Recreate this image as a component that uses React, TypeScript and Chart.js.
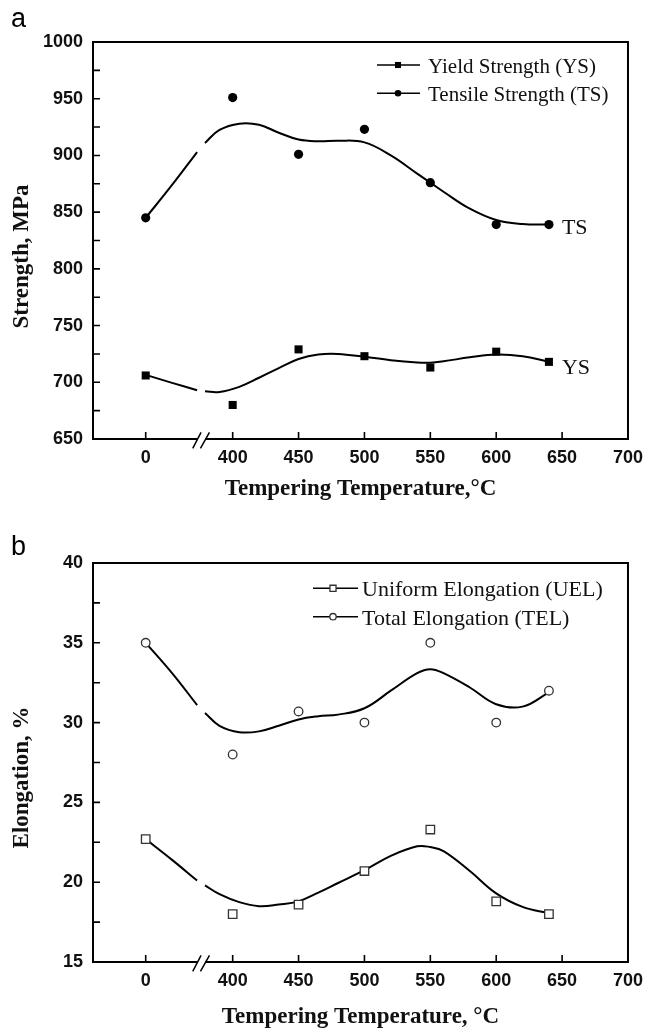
import React, { useEffect, useRef } from 'react';
import { Chart, registerables } from 'chart.js';

Chart.register(...registerables);

// ---------- data ----------
const TEMPS = [0, 400, 450, 500, 550, 600, 640];
const YS = [706, 680, 729, 723, 713, 727, 718];
const TS = [845, 951, 901, 923, 876, 839, 839];
const UEL = [22.7, 18.0, 18.6, 20.7, 23.3, 18.8, 18.0];
const TEL = [35.0, 28.0, 30.7, 30.0, 35.0, 30.0, 32.0];

// fitted smooth curves (axis positions; 376 = axis break, no value)
const FIT_X = [334, 354, 373, 376, 379, 390, 405, 420, 435, 450, 465, 480, 500, 520, 540, 550, 560, 580, 600, 620, 640];
const TS_FIT = [845, 874, 903, null, 911, 922.5, 928, 927, 920, 914, 912.5, 913, 911.5, 900, 884, 876, 868, 853, 843, 839.5, 839];
const YS_FIT = [706.5, 699.5, 693, null, 692, 691.5, 696, 704, 712.5, 720.5, 724.5, 725, 722.5, 719.5, 717.5, 717.3, 718.5, 722, 724.5, 723, 718];
const TEL_FIT = [35, 33.1, 31.1, null, 30.6, 29.8, 29.4, 29.45, 29.8, 30.2, 30.4, 30.5, 30.9, 32.0, 33.1, 33.35, 33.1, 32.2, 31.15, 31.0, 31.9];
const UEL_FIT = [22.7, 21.4, 20.1, null, 19.8, 19.25, 18.75, 18.5, 18.6, 18.8, 19.35, 19.95, 20.75, 21.65, 22.25, 22.2, 21.95, 20.7, 19.3, 18.45, 18.05];

const X_TICKS = [0, 400, 450, 500, 550, 600, 650, 700];
const Y_TICKS_A = [650, 700, 750, 800, 850, 900, 950, 1000];
const Y_TICKS_B = [15, 20, 25, 30, 35, 40];

const ZERO_POS = 334; // axis position where temperature 0 is drawn (broken axis)
const BREAK_AT = 376;
const X_MIN = 294;
const X_MAX = 700;
const toAxis = (t: number) => (t === 0 ? ZERO_POS : t);

const SERIF = '"Liberation Serif", "Times New Roman", serif';
const SANS = '"Liberation Sans", Arial, sans-serif';

type Series = {
  label: string;
  values: number[];
  fit: (number | null)[];
  style: 'rect' | 'circle';
  filled: boolean;
  radius: number;
  legendRadius: number;
  tag?: string;
  tagDy?: number;
};

type PanelCfg = {
  letter: string;
  letterY: number;
  padTop: number;
  padRight: number;
  xAxisH: number;
  yMin: number;
  yMax: number;
  yTicks: number[];
  minor: number;
  series: Series[];
  xTitle: string;
  xTitleY: number;
  yTitle: string;
  yTitleDy: number;
  legend: { x0: number; x1: number; mx: number; tx: number; rows: number[]; font: number; dy: number };
  tagFont: number;
};

const PANEL_A: PanelCfg = {
  letter: 'a',
  letterY: 27,
  padTop: 42,
  padRight: 18,
  xAxisH: 76,
  yMin: 650,
  yMax: 1000,
  yTicks: Y_TICKS_A,
  minor: 25,
  series: [
    { label: 'Yield Strength (YS)', values: YS, fit: YS_FIT, style: 'rect', filled: true, radius: 5.7, legendRadius: 4.3, tag: 'YS', tagDy: 12 },
    { label: 'Tensile Strength (TS)', values: TS, fit: TS_FIT, style: 'circle', filled: true, radius: 4.6, legendRadius: 3.3, tag: 'TS', tagDy: 9 },
  ],
  xTitle: 'Tempering Temperature,°C',
  xTitleY: 495,
  yTitle: 'Strength, MPa',
  yTitleDy: 16,
  legend: { x0: 377, x1: 420, mx: 398, tx: 428, rows: [65, 93.3], font: 21, dy: 7.5 },
  tagFont: 22,
};

const PANEL_B: PanelCfg = {
  letter: 'b',
  letterY: 40,
  padTop: 48,
  padRight: 15,
  xAxisH: 68,
  yMin: 15,
  yMax: 40,
  yTicks: Y_TICKS_B,
  minor: 2.5,
  series: [
    { label: 'Uniform Elongation (UEL)', values: UEL, fit: UEL_FIT, style: 'rect', filled: false, radius: 6, legendRadius: 4.3 },
    { label: 'Total Elongation (TEL)', values: TEL, fit: TEL_FIT, style: 'circle', filled: false, radius: 4.3, legendRadius: 3.2 },
  ],
  xTitle: 'Tempering Temperature, °C',
  xTitleY: 508,
  yTitle: 'Elongation, %',
  yTitleDy: 15,
  legend: { x0: 313, x1: 358, mx: 333, tx: 362, rows: [73.3, 101.7], font: 22, dy: 8 },
  tagFont: 22,
};

function drawMarker(ctx: CanvasRenderingContext2D, s: Series, x: number, y: number, r: number) {
  ctx.save();
  ctx.beginPath();
  if (s.style === 'rect') {
    const h = r * Math.SQRT1_2;
    ctx.rect(x - h, y - h, 2 * h, 2 * h);
  } else {
    ctx.arc(x, y, r, 0, Math.PI * 2);
  }
  ctx.fillStyle = s.filled ? '#000' : '#fff';
  ctx.fill();
  if (!s.filled) {
    ctx.lineWidth = 1.3;
    ctx.strokeStyle = '#333';
    ctx.stroke();
  }
  ctx.restore();
}

function makeDecor(cfg: PanelCfg) {
  return {
    id: 'decor',
    afterDraw(chart: any) {
      const { ctx, chartArea: a } = chart;
      const x = chart.scales.x;
      const y = chart.scales.y;
      ctx.save();
      ctx.strokeStyle = '#000';
      ctx.lineWidth = 1.6;
      // inward ticks
      ctx.beginPath();
      for (const t of X_TICKS) {
        if (t >= X_MAX) continue;
        const px = x.getPixelForValue(toAxis(t));
        ctx.moveTo(px, a.bottom);
        ctx.lineTo(px, a.bottom - 7);
      }
      for (let v = cfg.yMin + cfg.minor; v < cfg.yMax - 1e-6; v += cfg.minor) {
        const py = y.getPixelForValue(v);
        ctx.moveTo(a.left, py);
        ctx.lineTo(a.left + 7, py);
      }
      ctx.stroke();
      // frame
      ctx.lineWidth = 2;
      ctx.strokeRect(a.left, a.top, a.right - a.left, a.bottom - a.top);
      // axis break
      const bx = x.getPixelForValue(BREAK_AT);
      ctx.fillStyle = '#fff';
      ctx.fillRect(bx - 4, a.bottom - 2, 8, 4);
      ctx.lineWidth = 1.5;
      ctx.beginPath();
      ctx.moveTo(bx - 8.3, a.bottom + 9.3);
      ctx.lineTo(bx, a.bottom - 6.7);
      ctx.moveTo(bx - 0.6, a.bottom + 9.3);
      ctx.lineTo(bx + 8.4, a.bottom - 6.7);
      ctx.stroke();

      // legend
      const L = cfg.legend;
      cfg.series.forEach((s, i) => {
        const ly = L.rows[i];
        ctx.lineWidth = 1.6;
        ctx.strokeStyle = '#000';
        ctx.beginPath();
        ctx.moveTo(L.x0, ly);
        ctx.lineTo(L.x1, ly);
        ctx.stroke();
        drawMarker(ctx, s, L.mx, ly, s.legendRadius);
        ctx.fillStyle = '#111';
        ctx.font = `${L.font}px ${SERIF}`;
        ctx.textAlign = 'left';
        ctx.textBaseline = 'alphabetic';
        ctx.fillText(s.label, L.tx, ly + L.dy);
      });

      // series tags
      cfg.series.forEach((s) => {
        if (!s.tag) return;
        const last = s.values.length - 1;
        const px = x.getPixelForValue(toAxis(TEMPS[last])) + 13;
        const py = y.getPixelForValue(s.values[last]) + (s.tagDy || 0);
        ctx.fillStyle = '#111';
        ctx.font = `${cfg.tagFont}px ${SERIF}`;
        ctx.textAlign = 'left';
        ctx.textBaseline = 'alphabetic';
        ctx.fillText(s.tag, px, py);
      });

      // axis titles
      ctx.fillStyle = '#111';
      ctx.font = `bold 23px ${SERIF}`;
      ctx.textAlign = 'center';
      ctx.textBaseline = 'alphabetic';
      ctx.fillText(cfg.xTitle, (a.left + a.right) / 2, cfg.xTitleY);
      ctx.save();
      ctx.translate(28, (a.top + a.bottom) / 2 + cfg.yTitleDy);
      ctx.rotate(-Math.PI / 2);
      ctx.fillText(cfg.yTitle, 0, 0);
      ctx.restore();

      // panel letter
      ctx.font = `27px ${SANS}`;
      ctx.textAlign = 'left';
      ctx.fillStyle = '#000';
      ctx.fillText(cfg.letter, 11, cfg.letterY);
      ctx.restore();
    },
  };
}

function buildConfig(cfg: PanelCfg): any {
  const datasets: any[] = [];
  cfg.series.forEach((s) => {
    datasets.push({
      type: 'line',
      label: s.label + ' fit',
      data: FIT_X.map((xv, i) => ({ x: xv, y: s.fit[i] })),
      borderColor: '#000',
      borderWidth: 2,
      pointRadius: 0,
      fill: false,
      tension: 0.4,
      spanGaps: false,
      order: 2,
    });
  });
  cfg.series.forEach((s) => {
    datasets.push({
      type: 'scatter',
      label: s.label,
      data: TEMPS.map((t, i) => ({ x: toAxis(t), y: s.values[i] })),
      showLine: false,
      pointStyle: s.style,
      pointRadius: s.radius,
      pointHoverRadius: s.radius,
      backgroundColor: s.filled ? '#000' : '#fff',
      borderColor: s.filled ? '#000' : '#333',
      borderWidth: s.filled ? 0 : 1.3,
      order: 1,
    });
  });
  const tickFont = { family: SANS, size: 18, weight: 'bold' as const };
  return {
    type: 'scatter',
    data: { datasets },
    plugins: [makeDecor(cfg)],
    options: {
      responsive: false,
      animation: false,
      events: [],
      layout: { padding: { left: 0, top: cfg.padTop, right: cfg.padRight, bottom: 0 } },
      plugins: { legend: { display: false }, tooltip: { enabled: false }, title: { display: false } },
      scales: {
        x: {
          type: 'linear',
          min: X_MIN,
          max: X_MAX,
          afterBuildTicks: (sc: any) => {
            sc.ticks = X_TICKS.map((t) => ({ value: toAxis(t) }));
          },
          afterFit: (sc: any) => {
            sc.height = cfg.xAxisH;
          },
          grid: { display: false, drawTicks: false },
          border: { display: false },
          ticks: {
            autoSkip: false,
            maxRotation: 0,
            padding: 8,
            color: '#111',
            font: tickFont,
            callback: (v: number) => (v === ZERO_POS ? '0' : String(v)),
          },
        },
        y: {
          type: 'linear',
          min: cfg.yMin,
          max: cfg.yMax,
          afterBuildTicks: (sc: any) => {
            sc.ticks = cfg.yTicks.map((v) => ({ value: v }));
          },
          afterFit: (sc: any) => {
            sc.width = 93;
          },
          grid: { display: false, drawTicks: false },
          border: { display: false },
          ticks: {
            padding: 10,
            color: '#111',
            font: tickFont,
            callback: (v: number) => String(v),
          },
        },
      },
    },
  };
}

function Panel({ cfg }: { cfg: PanelCfg }) {
  const ref = useRef<HTMLCanvasElement>(null);
  useEffect(() => {
    const chart = new Chart(ref.current as HTMLCanvasElement, buildConfig(cfg));
    return () => chart.destroy();
  }, [cfg]);
  return <canvas ref={ref} width={651} height={515} style={{ display: 'block', width: 651, height: 515 }} />;
}

export default function App() {
  return (
    <div style={{ position: 'absolute', left: 0, top: 0, width: 651, height: 1030, background: '#fff' }}>
      <Panel cfg={PANEL_A} />
      <Panel cfg={PANEL_B} />
    </div>
  );
}
